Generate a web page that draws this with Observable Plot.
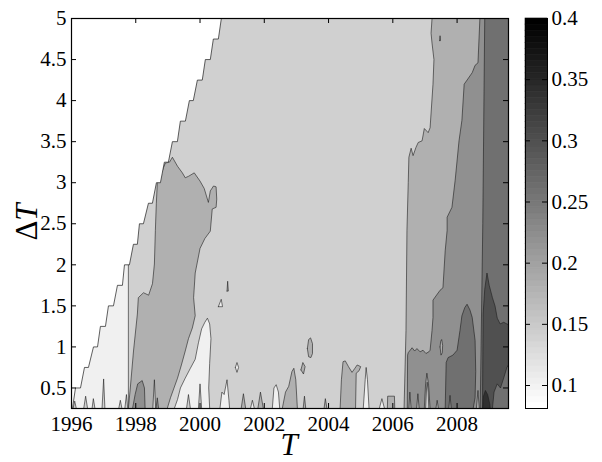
<!DOCTYPE html>
<html><head><meta charset="utf-8">
<script src="https://cdn.jsdelivr.net/npm/d3@7"></script>
<script src="https://cdn.jsdelivr.net/npm/@observablehq/plot@0.6"></script>
<style>
body{margin:0;background:#fff}
#wrap{position:relative;width:602px;height:462px;background:#fff}
#wrap svg{position:absolute;top:0}
#wrap svg text{font-family:"Liberation Serif","Times New Roman",serif !important}
</style>
</head><body><div id="wrap"></div>
<script>
// ---------- axes / scale data ----------
const domainT = [1996, 2009.6];
const domainDT = [0.25, 5];
const cbDomain = [0.0812, 0.4];
const xTicks = [1996, 1998, 2000, 2002, 2004, 2006, 2008];
const yTicks = [0.5, 1, 1.5, 2, 2.5, 3, 3.5, 4, 4.5, 5];
const cbTicks = [0.1, 0.15, 0.2, 0.25, 0.3, 0.35, 0.4];
// filled-contour band values (colour of each band)
const levels = [0.10, 0.14, 0.18, 0.22, 0.26, 0.30, 0.34];

// ---------- contour regions, [T, ΔT] vertices ----------
const fullArea = [[1996,0.25],[2009.6,0.25],[2009.6,5],[1996,5]];
const lightMain = [[1997.77,0.25],[1997.77,5],[2009.6,5],[2009.6,0.25]];
const spikeL1 = [[1996.05,0.25],[1996.1,0.34],[1996.15,0.25]];
const spikeL2 = [[1996.38,0.25],[1996.44,0.4],[1996.5,0.25]];
const spikeL3 = [[1996.64,0.25],[1996.68,0.37],[1996.73,0.25]];
const spikeL4 = [[1996.95,0.25],[1997.0,0.61],[1997.04,0.25]];
const spikeL5 = [[1997.47,0.25],[1997.52,0.35],[1997.57,0.25]];
const spikeL6 = [[1997.66,0.25],[1997.71,0.42],[1997.75,0.25]];
const medBandL = [[1997.77,0.25],[1997.83,0.5],[1997.93,0.95],[1998.05,1.4],[1998.08,1.6],[1998.24,1.66],[1998.4,1.63],[1998.52,1.77],[1998.58,2.01],[1998.61,2.42],[1998.64,2.75],[1998.67,2.99],[1998.8,3.12],[1998.92,3.24],[1999.05,3.25],[1999.14,3.31],[1999.3,3.2],[1999.45,3.12],[1999.54,3.06],[1999.65,3.08],[1999.82,3.12],[2000.0,3.02],[2000.13,2.93],[2000.26,2.76],[2000.32,2.9],[2000.42,2.96],[2000.5,2.95],[2000.52,2.8],[2000.5,2.7],[2000.38,2.68],[2000.32,2.41],[2000.15,2.32],[2000.0,2.2],[1999.85,1.9],[1999.8,1.6],[1999.85,1.38],[1999.76,1.23],[1999.64,1.1],[1999.54,0.95],[1999.42,0.78],[1999.3,0.62],[1999.08,0.38],[1998.98,0.25]];
const blobL22 = [[1997.9,0.25],[1997.98,0.42],[1998.06,0.55],[1998.2,0.59],[1998.27,0.5],[1998.29,0.25]];
const spikeM1 = [[1998.53,0.25],[1998.58,0.6],[1998.62,0.25]];
const spikeM2 = [[1998.63,0.25],[1998.67,0.38],[1998.71,0.25]];
const lightIntrusion = [[1999.2,0.25],[1999.3,0.36],[1999.39,0.5],[1999.54,0.62],[1999.7,0.74],[1999.85,0.85],[1999.95,1.05],[2000.05,1.22],[2000.15,1.3],[2000.23,1.35],[2000.3,1.28],[2000.34,1.1],[2000.3,0.8],[2000.27,0.5],[2000.3,0.25]];
const spikeI1 = [[1999.95,0.25],[2000.0,0.55],[2000.05,0.25]];
const spikeI2 = [[1999.58,0.25],[1999.64,0.42],[1999.7,0.25]];
const islDot = [[2000.84,1.68],[2000.86,1.8],[2000.88,1.68]];
const islTri = [[2000.57,1.49],[2000.66,1.58],[2000.7,1.49]];
const islOval = [[2001.1,0.75],[2001.15,0.81],[2001.2,0.75],[2001.15,0.69]];
const spikeA = [[2000.62,0.25],[2000.68,0.45],[2000.75,0.42],[2000.84,0.6],[2000.9,0.35],[2000.92,0.25]];
const spikeB = [[2001.28,0.25],[2001.35,0.43],[2001.42,0.25]];
const spikeC = [[2001.57,0.25],[2001.63,0.35],[2001.69,0.25]];
const spikeD = [[2001.8,0.25],[2001.88,0.45],[2001.97,0.25]];
const spikeE = [[2002.25,0.25],[2002.3,0.5],[2002.37,0.54],[2002.44,0.45],[2002.48,0.25]];
const spikeF = [[2002.56,0.25],[2002.66,0.45],[2002.76,0.52],[2002.86,0.7],[2002.92,0.74],[2002.98,0.6],[2003.03,0.25]];
const islG = [[2003.14,0.72],[2003.2,0.81],[2003.27,0.76],[2003.22,0.67]];
const islH = [[2003.34,0.98],[2003.38,1.09],[2003.44,1.11],[2003.5,1.04],[2003.5,0.92],[2003.45,0.87],[2003.38,0.88]];
const spikeI = [[2003.21,0.25],[2003.25,0.4],[2003.29,0.25]];
const spikeJ = [[2003.86,0.25],[2003.9,0.37],[2003.95,0.25]];
const spikeK = [[2004.36,0.25],[2004.4,0.6],[2004.45,0.82],[2004.52,0.83],[2004.62,0.76],[2004.73,0.69],[2004.82,0.74],[2004.89,0.78],[2005.0,0.76],[2004.95,0.71],[2004.86,0.68],[2004.84,0.25]];
const spikeL = [[2005.08,0.25],[2005.14,0.6],[2005.17,0.75],[2005.21,0.6],[2005.26,0.25]];
const spikeM = [[2005.58,0.25],[2005.66,0.37],[2005.74,0.25]];
const rectN = [[2005.83,0.25],[2005.84,0.4],[2006.05,0.4],[2006.06,0.25]];
const rightMed = [[2006.35,0.25],[2006.41,1.2],[2006.44,2.42],[2006.48,3.0],[2006.5,3.31],[2006.57,3.42],[2006.63,3.33],[2006.72,3.43],[2006.79,3.49],[2006.91,3.51],[2006.98,3.66],[2007.1,3.61],[2007.16,3.67],[2007.25,4.2],[2007.28,4.5],[2007.22,4.7],[2007.19,4.82],[2007.22,5],[2009.6,5],[2009.6,0.25]];
const right22 = [[2006.45,0.25],[2006.46,0.9],[2006.48,0.93],[2006.6,0.99],[2006.68,0.95],[2006.75,0.98],[2006.85,0.94],[2006.94,0.96],[2007.03,0.92],[2007.12,0.94],[2007.16,0.96],[2007.22,1.2],[2007.25,1.36],[2007.25,1.57],[2007.47,1.69],[2007.56,1.72],[2007.63,2.17],[2007.69,2.42],[2007.69,2.58],[2007.84,2.7],[2007.94,3.03],[2008.06,3.51],[2008.15,3.76],[2008.22,4.2],[2008.31,4.25],[2008.47,4.34],[2008.56,4.43],[2008.65,4.46],[2008.71,5],[2009.6,5],[2009.6,0.25]];
const islR1 = [[2007.47,1.0],[2007.49,1.07],[2007.52,1.09],[2007.55,1.02],[2007.54,0.93],[2007.5,0.9]];
const dotR = [[2007.46,4.73],[2007.47,4.79],[2007.48,4.73]];
const blob26 = [[2007.63,0.25],[2007.66,0.81],[2007.72,0.87],[2007.87,0.9],[2008.0,0.96],[2008.09,1.2],[2008.15,1.38],[2008.24,1.48],[2008.31,1.52],[2008.4,1.45],[2008.47,1.36],[2008.56,1.08],[2008.58,0.7],[2008.56,0.38],[2008.5,0.25]];
const islR2a = [[2006.98,0.25],[2007.02,0.55],[2007.06,0.68],[2007.11,0.55],[2007.16,0.25]];
const islR2b = [[2007.02,0.25],[2007.05,0.5],[2007.07,0.57],[2007.1,0.45],[2007.12,0.25]];
const spikeR3 = [[2006.5,0.25],[2006.53,0.45],[2006.57,0.25]];
const spikeR4 = [[2006.74,0.25],[2006.78,0.43],[2006.82,0.25]];
const spikeR5 = [[2007.34,0.25],[2007.38,0.35],[2007.42,0.25]];
const spikeR6 = [[2007.74,0.25],[2007.78,0.41],[2007.82,0.25]];
const spikeR7 = [[2008.6,0.25],[2008.65,0.47],[2008.69,0.25]];
const right26 = [[2008.72,0.25],[2008.8,2.5],[2008.86,5],[2009.6,5],[2009.6,0.25]];
const dark30 = [[2008.79,0.25],[2008.81,1.4],[2008.86,1.7],[2008.93,1.9],[2009.0,1.75],[2009.1,1.6],[2009.18,1.5],[2009.25,1.35],[2009.34,1.28],[2009.45,1.3],[2009.55,1.28],[2009.6,1.27],[2009.6,0.25]];
const spot26 = [[2009.1,0.25],[2009.15,0.45],[2009.25,0.55],[2009.35,0.5],[2009.45,0.62],[2009.55,0.75],[2009.6,0.78],[2009.6,0.25]];
const black34 = [[2008.8,0.25],[2008.82,0.4],[2008.88,0.47],[2008.95,0.42],[2009.02,0.3],[2009.03,0.25]];
// NaN region (upper left) bounded by the staircase
const stairs = [[1996.03,0.25],[1996.124,0.5],[1996.28,0.5],[1996.404,0.75],[1996.528,0.75],[1996.684,1.0],[1996.81,1.0],[1996.9,1.25],[1997.057,1.25],[1997.15,1.5],[1997.306,1.5],[1997.43,1.75],[1997.585,1.75],[1997.648,2.0],[1997.803,2.0],[1997.927,2.25],[1998.05,2.25],[1998.114,2.5],[1998.238,2.5],[1998.394,2.75],[1998.518,2.75],[1998.642,3.0],[1998.767,3.0],[1998.89,3.25],[1999.015,3.25],[1999.14,3.5],[1999.295,3.5],[1999.388,3.75],[1999.544,3.75],[1999.668,4.0],[1999.79,4.0],[1999.917,4.25],[2000.07,4.25],[2000.165,4.5],[2000.32,4.5],[2000.414,4.75],[2000.57,4.75],[2000.663,5]];
const maskCorners = [[1996,5],[1996,0.25]];

// drawing order (painter's), with band index
const regions = [
  [fullArea,0,false],[lightMain,1,true],
  [spikeL1,1,true],[spikeL2,1,true],[spikeL3,1,true],[spikeL4,1,true],[spikeL5,1,true],[spikeL6,1,true],
  [medBandL,2,true],[blobL22,3,true],[spikeM1,1,true],[spikeM2,3,true],
  [lightIntrusion,0,true],[spikeI1,1,true],[spikeI2,1,true],
  [islDot,2,true],[islTri,0,true],[islOval,0,true],[spikeA,0,true],[spikeB,2,true],[spikeC,0,true],[spikeD,2,true],
  [spikeE,0,true],[spikeF,2,true],[islG,2,true],[islH,2,true],[spikeI,2,true],[spikeJ,2,true],[spikeK,2,true],
  [spikeL,0,true],[spikeM,0,true],[rectN,2,true],
  [rightMed,2,true],[right22,3,true],[islR1,2,true],[dotR,3,true],[blob26,4,true],
  [islR2a,2,true],[islR2b,1,true],[spikeR3,2,true],[spikeR4,2,true],[spikeR5,2,true],[spikeR6,3,true],[spikeR7,2,true],
  [right26,4,true],[dark30,5,true],[spot26,4,true],[black34,6,true]
];

const close = pts => pts.concat([pts[0]]);
const colorScale = {type: "linear", domain: cbDomain, range: ["#ffffff", "#000000"]};
const font = "Liberation Serif";
const lineCol = "#1c1c1c";

const main = Plot.plot({
  width: 520, height: 462,
  marginLeft: 71, marginRight: 12, marginTop: 18, marginBottom: 54,
  x: {domain: domainT}, y: {domain: domainDT},
  color: colorScale,
  style: {fontFamily: font, fontSize: "21px", background: "transparent", color: "black"},
  marks: [
    ...regions.map(([pts, li, st]) => Plot.line(close(pts), {
      x: d => d[0], y: d => d[1], fill: () => levels[li],
      stroke: st ? lineCol : "none", strokeWidth: 0.6, clip: true
    })),
    Plot.line(close(stairs.concat(maskCorners)), {x: d => d[0], y: d => d[1], fill: "white", stroke: lineCol, strokeWidth: 0.7, clip: true}),
    Plot.frame({stroke: "black", strokeWidth: 1.2}),
    Plot.tickX(xTicks, {x: d => d, insetTop: 385, stroke: "black"}),
    Plot.tickX(xTicks, {x: d => d, insetBottom: 385, stroke: "black"}),
    Plot.tickY(yTicks, {y: d => d, insetRight: 432, stroke: "black"}),
    Plot.tickY(yTicks, {y: d => d, insetLeft: 432, stroke: "black"}),
    Plot.axisX({ticks: xTicks, tickSize: 0, tickPadding: 8, tickFormat: d => String(d), label: null, fontSize: 21, fontFamily: font}),
    Plot.axisY({ticks: yTicks, tickSize: 0, tickPadding: 5, tickFormat: d => String(d), label: null, fontSize: 21, fontFamily: font})
  ]
});

// colour bar (legend of the colour scale, 64 steps as in the original)
const nSteps = 64;
const cbSteps = d3.range(nSteps).map(i => ({
  y1: cbDomain[0] + i * (cbDomain[1] - cbDomain[0]) / nSteps,
  y2: cbDomain[0] + (i + 1) * (cbDomain[1] - cbDomain[0]) / nSteps,
  v: cbDomain[0] + i * (cbDomain[1] - cbDomain[0]) / (nSteps - 1)
}));
const cbar = Plot.plot({
  width: 102, height: 462,
  marginLeft: 25, marginRight: 55, marginTop: 18, marginBottom: 54,
  y: {domain: cbDomain, axis: null},
  color: colorScale,
  style: {fontFamily: font, fontSize: "21px", background: "transparent", color: "black"},
  marks: [
    Plot.rect(cbSteps, {y1: "y1", y2: "y2", fill: "v", stroke: "v", strokeWidth: 0.6}),
    Plot.frame({stroke: "black", strokeWidth: 1}),
    Plot.tickY(cbTicks, {y: d => d, insetRight: 17, stroke: "black"}),
    Plot.tickY(cbTicks, {y: d => d, insetLeft: 17, stroke: "black"}),
    Plot.axisY({anchor: "right", ticks: cbTicks, tickSize: 0, tickPadding: 4, tickFormat: d => String(d), label: null, fontSize: 21, fontFamily: font})
  ]
});

const wrap = document.getElementById("wrap");
main.style.left = "0px";
cbar.style.left = "500px";
wrap.appendChild(main);
wrap.appendChild(cbar);

// axis titles
const sv = d3.select(main);
const yl = sv.append("text")
  .attr("transform", "translate(37,222) rotate(-90)")
  .attr("text-anchor", "middle")
  .style("font-size", "31px");
yl.append("tspan").text("Δ");
yl.append("tspan").style("font-style", "italic").text("T");
sv.append("text").attr("x", 289).attr("y", 455).attr("text-anchor", "middle")
  .style("font-size", "31px").style("font-style", "italic").text("T");
</script></body></html>
